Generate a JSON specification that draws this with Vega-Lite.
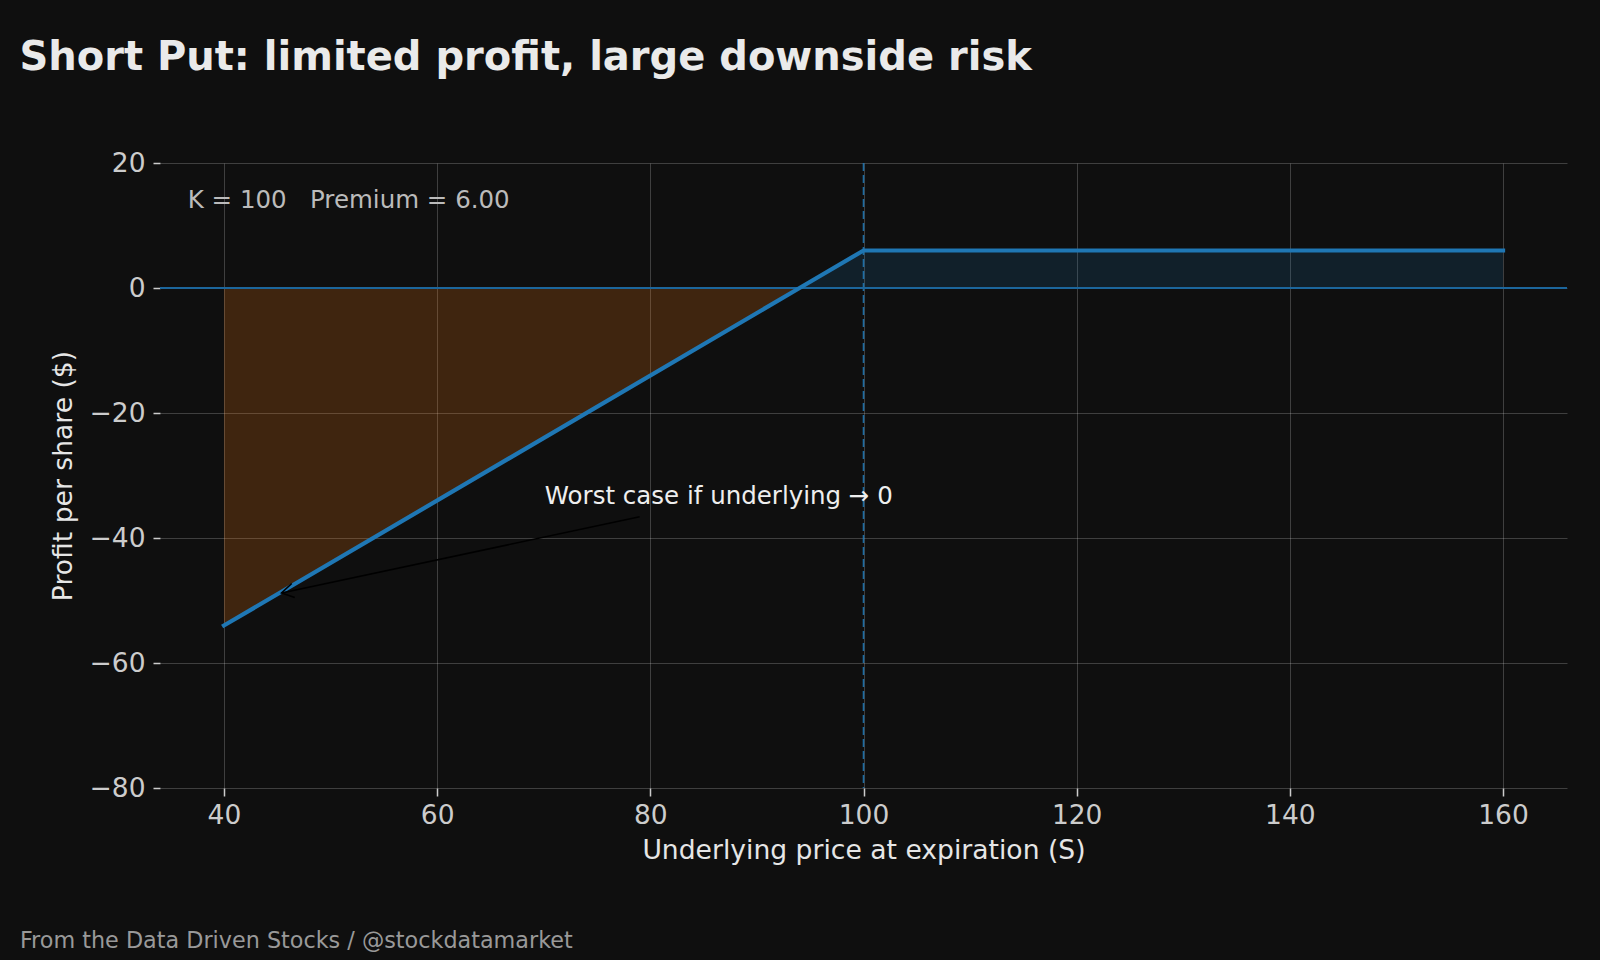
{
  "$schema": "https://vega.github.io/schema/vega-lite/v6.json",
  "width": 1407,
  "height": 625,
  "autosize": {"type": "none"},
  "padding": {"left": 160, "top": 163, "right": 33, "bottom": 172},
  "background": "#0f0f0f",
  "title": {
    "text": "Short Put: limited profit, large downside risk",
    "anchor": "start",
    "frame": "group",
    "orient": "top",
    "dx": -140.6,
    "offset": 40,
    "baseline": "alphabetic",
    "font": "DejaVu Sans",
    "fontSize": 40,
    "fontWeight": "bold",
    "color": "#eaeaea"
  },
  "config": {
    "view": {"stroke": null},
    "font": "DejaVu Sans",
    "axis": {
      "labelFont": "DejaVu Sans",
      "titleFont": "DejaVu Sans",
      "labelFontSize": 26.5,
      "labelColor": "#cccccc",
      "titleFontSize": 26.6,
      "titleFontWeight": "normal",
      "titleColor": "#e6e6e6",
      "gridColor": "#ffffff",
      "gridOpacity": 0.2,
      "gridWidth": 1,
      "domain": false,
      "tickColor": "#cccccc",
      "tickWidth": 1.5,
      "tickSize": 7
    }
  },
  "datasets": {
    "payoff": [
      {"S": 40, "pnl": -54},
      {"S": 94, "pnl": 0},
      {"S": 100, "pnl": 6},
      {"S": 160, "pnl": 6}
    ],
    "strike": [{"K": 100}],
    "zero": [{"level": 0}],
    "arrow": [
      {"S": 79, "pnl": -36.6},
      {"S": 45.4, "pnl": -48.8}
    ],
    "arrowTip": [{"S": 45.4, "pnl": -48.8}],
    "info": [{"S": 36.6, "pnl": 13.9, "label": "K = 100\u00a0\u00a0\u00a0Premium = 6.00"}],
    "worst": [{"S": 70.1, "pnl": -33.4, "label": "Worst case if underlying → 0"}],
    "footer": [{"f": 0}]
  },
  "layer": [
    {
      "encoding": {
        "x": {
          "field": "S",
          "type": "quantitative",
          "scale": {"domain": [34, 166], "nice": false, "zero": false},
          "axis": {
            "values": [40, 60, 80, 100, 120, 140, 160],
            "title": "Underlying price at expiration (S)",
            "grid": true,
            "tickSize": 8,
            "labelPadding": 6,
            "titlePadding": 9
          }
        },
        "y": {
          "field": "pnl",
          "type": "quantitative",
          "scale": {"domain": [-80, 20], "nice": false, "zero": false},
          "axis": {
            "values": [-80, -60, -40, -20, 0, 20],
            "title": "Profit per share ($)",
            "grid": true,
            "labelPadding": 8,
            "titlePadding": 12
          }
        }
      },
      "layer": [
        {
          "data": {"name": "payoff"},
          "transform": [{"filter": "datum.S <= 94"}],
          "mark": {"type": "area", "color": "#ff7f0e", "opacity": 0.2},
          "encoding": {"y2": {"datum": 0}}
        },
        {
          "data": {"name": "payoff"},
          "transform": [{"filter": "datum.S >= 94"}],
          "mark": {"type": "area", "color": "#1f77b4", "opacity": 0.17},
          "encoding": {"y2": {"datum": 0}}
        },
        {
          "data": {"name": "strike"},
          "mark": {"type": "rule", "color": "#1f77b4", "strokeWidth": 1.6, "strokeDash": [8, 4], "opacity": 0.9},
          "encoding": {"x": {"field": "K", "type": "quantitative"}, "y": null}
        },
        {
          "data": {"name": "zero"},
          "mark": {"type": "rule", "color": "#1c669c", "strokeWidth": 2, "opacity": 1},
          "encoding": {"x": null, "y": {"field": "level", "type": "quantitative"}}
        },
        {
          "data": {"name": "payoff"},
          "mark": {"type": "line", "color": "#1f77b4", "strokeWidth": 4.2, "strokeCap": "square"}
        },
        {
          "data": {"name": "arrow"},
          "mark": {"type": "line", "color": "#000000", "strokeWidth": 1.6}
        },
        {
          "data": {"name": "arrowTip"},
          "mark": {
            "type": "point",
            "shape": "M 1 -0.6 L 0 0 L 1 0.6",
            "filled": false,
            "stroke": "#000000",
            "strokeWidth": 1.6,
            "size": 576,
            "angle": 348,
            "opacity": 1
          }
        },
        {
          "data": {"name": "info"},
          "mark": {"type": "text", "align": "left", "baseline": "middle", "fontSize": 24.5, "color": "#bbbbbb", "font": "DejaVu Sans"},
          "encoding": {"text": {"field": "label"}}
        },
        {
          "data": {"name": "worst"},
          "mark": {"type": "text", "align": "left", "baseline": "middle", "fontSize": 24.5, "color": "#eeeeee", "font": "DejaVu Sans"},
          "encoding": {"text": {"field": "label"}}
        }
      ]
    },
    {
      "data": {"name": "footer"},
      "mark": {"type": "rule", "opacity": 0},
      "encoding": {
        "y": {
          "field": "f",
          "type": "quantitative",
          "axis": {
            "orient": "right",
            "title": "From the Data Driven Stocks / @stockdatamarket",
            "labels": false,
            "ticks": false,
            "domain": false,
            "grid": false,
            "titleAngle": 0,
            "titleAlign": "left",
            "titleBaseline": "middle",
            "titleX": -1547.6,
            "titleY": 777,
            "titleFontSize": 22.3,
            "titleColor": "#999999",
            "titleFontWeight": "normal"
          }
        }
      }
    }
  ],
  "resolve": {"scale": {"y": "independent"}}
}
